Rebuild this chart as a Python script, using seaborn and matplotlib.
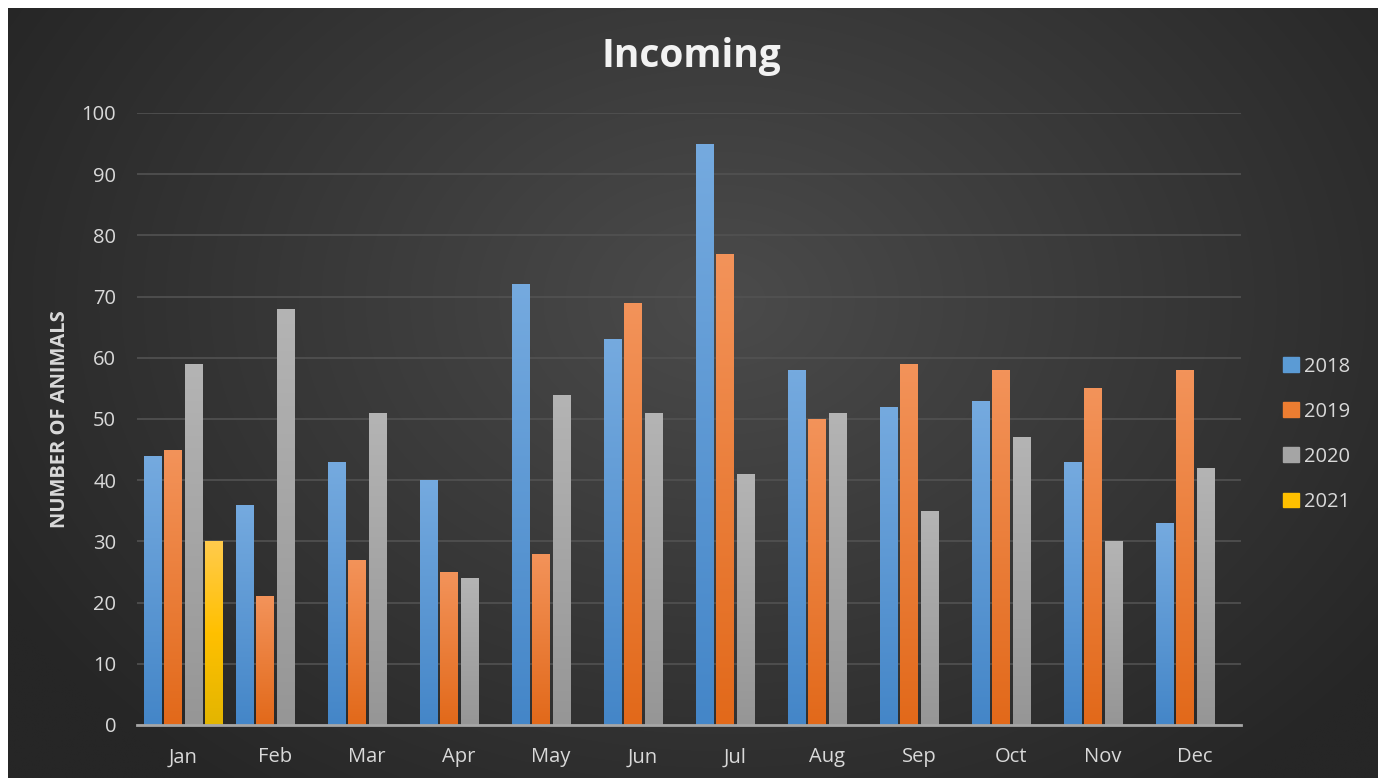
import matplotlib.pyplot as plt
import matplotlib.patches as mpatches
import matplotlib.colors as mcolors
import numpy as np
import pandas as pd
import seaborn as sns

months = ["Jan", "Feb", "Mar", "Apr", "May", "Jun", "Jul", "Aug", "Sep", "Oct", "Nov", "Dec"]
years = ["2018", "2019", "2020", "2021"]
v2018 = [44, 36, 43, 40, 72, 63, 95, 58, 52, 53, 43, 33]
v2019 = [45, 21, 27, 25, 28, 69, 77, 50, 59, 58, 55, 58]
v2020 = [59, 68, 51, 24, 54, 51, 41, 51, 35, 47, 30, 42]
v2021 = [30]  # only January so far
colors = ["#5b9bd5", "#ed7d31", "#a5a5a5", "#ffc000"]
grad_top = ["#75aadf", "#f3935a", "#b4b4b4", "#ffcb4c"]
grad_bot = ["#4486c8", "#e2691a", "#969696", "#e3b500"]

rows = []
for yr, vals in zip(years, [v2018, v2019, v2020, v2021]):
    for m, v in zip(months, vals):
        rows.append({"month": m, "count": v, "year": yr})
df = pd.DataFrame(rows)

sns.set_theme(style="dark")
plt.rcParams["font.family"] = ["Open Sans", "DejaVu Sans"]

W, H = 1382, 782
fig = plt.figure(figsize=(W / 100, H / 100), dpi=100, facecolor="white")

# dark radial background inside a thin white border
bg = fig.add_axes([8 / W, 4 / H, 1370 / W, 770 / H], zorder=-5)
yy, xx = np.mgrid[0:400, 0:700]
cx, cy = 0.52 * 700, 0.38 * 400
d = np.sqrt(((xx - cx) / 700) ** 2 + ((yy - cy) / 400 * 0.75) ** 2)
d = np.clip(d / 0.6, 0, 1)
light = np.array([0x4b, 0x4b, 0x4b]) / 255
dark = np.array([0x26, 0x26, 0x26]) / 255
img = light[None, None, :] * (1 - d[..., None]) + dark[None, None, :] * d[..., None]
bg.imshow(img, aspect="auto", interpolation="bilinear")
bg.set_axis_off()

ax = fig.add_axes([137 / W, 1 - 725 / H, 1104 / W, 612 / H])
ax.set_facecolor("none")

sns.barplot(data=df, x="month", y="count", hue="year", order=months, hue_order=years,
            palette=colors, width=0.87, gap=0.15, errorbar=None, ax=ax, legend=False)

# vertical gradient fill on each bar
t = np.linspace(0, 1, 100)[:, None]
for p in list(ax.patches):
    h = p.get_height()
    if not np.isfinite(h) or h == 0:
        continue
    fc = np.array(p.get_facecolor()[:3])
    idx = int(np.argmin([np.abs(fc - np.array(mcolors.to_rgb(c))).sum() for c in colors]))
    top = np.array(mcolors.to_rgb(grad_top[idx]))
    bot = np.array(mcolors.to_rgb(grad_bot[idx]))
    if idx == 3:
        mid = np.array(mcolors.to_rgb("#ffc000"))
        g = np.where(t < 0.5, top * (1 - t / 0.5) + mid * (t / 0.5),
                     mid * (1 - (t - 0.5) / 0.5) + bot * ((t - 0.5) / 0.5))
    else:
        g = top * (1 - t) + bot * t
    x0 = p.get_x()
    w = p.get_width()
    im = ax.imshow(g[:, None, :], extent=(x0, x0 + w, 0, h), aspect="auto",
                   interpolation="bilinear", zorder=2)
    im.set_clip_path(p)
    p.set_facecolor("none")
    p.set_edgecolor("none")

ax.set_xlim(-0.5, 11.5)
ax.set_ylim(0, 100)
ax.set_yticks(range(0, 101, 10))
ax.yaxis.grid(True, color="#525252", linewidth=1.2)
ax.xaxis.grid(False)
ax.set_axisbelow(True)
for s in ["top", "right", "left"]:
    ax.spines[s].set_visible(False)
ax.spines["bottom"].set_color("#a6a6a6")
ax.spines["bottom"].set_linewidth(2)
ax.spines["bottom"].set_zorder(3)
ax.tick_params(axis="both", colors="#d9d9d9", labelsize=14.5, length=0)
ax.tick_params(axis="x", pad=16)
ax.tick_params(axis="y", pad=15)
ax.set_xlabel("")
ax.set_ylabel("NUMBER OF ANIMALS", color="#d9d9d9", fontsize=14.5, fontweight="bold", labelpad=8)

fig.text(0.5, 1 - 57 / H, "Incoming", ha="center", va="center", color="#f2f2f2",
         fontsize=28, fontweight="bold")

handles = [mpatches.Patch(color=c, label=y) for c, y in zip(colors, years)]
leg = ax.legend(handles=handles, loc="center left", bbox_to_anchor=(1.022, 0.475), frameon=False,
                fontsize=14.5, labelcolor="#d9d9d9", handlelength=0.75, handleheight=0.75,
                handletextpad=0.25, labelspacing=1.25)

fig.savefig("out.png", dpi=100, facecolor="white")
